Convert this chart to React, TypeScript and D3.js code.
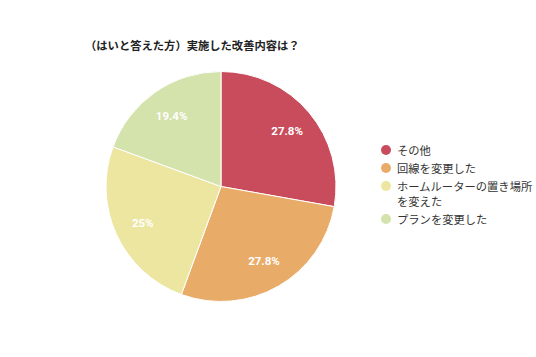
import React from "react";
import * as d3 from "d3";

const categories = ["その他", "回線を変更した", "ホームルーターの置き場所を変えた", "プランを変更した"];
const legendLines = [["その他"], ["回線を変更した"], ["ホームルーターの置き場所", "を変えた"], ["プランを変更した"]];
const values = [27.8, 27.8, 25, 19.4];
const labels = ["27.8%", "27.8%", "25%", "19.4%"];
const colors = ["#c84c5c", "#e8ab68", "#ede6a1", "#d4e2ac"];
const title = "（はいと答えた方）実施した改善内容は？";

export default function App() {
  const W = 536, H = 357;
  const cx = 221, cy = 186.5, r = 115;
  const pie = d3.pie<number>().value((d) => d).sort(null);
  const arcs = pie(values);
  const arc = d3.arc<d3.PieArcDatum<number>>().innerRadius(0).outerRadius(r);
  const labelArc = d3.arc<d3.PieArcDatum<number>>().innerRadius(r * 0.75).outerRadius(r * 0.75);
  const font = "'Noto Sans CJK JP', 'Noto Sans', sans-serif";
  let ly = 150;
  const legendY: number[] = [];
  legendLines.forEach((l) => {
    legendY.push(ly);
    ly += 18 + (l.length - 1) * 15;
  });
  return (
    <svg width={W} height={H} style={{ position: "absolute", left: 0, top: 0 }} fontFamily={font}>
      <rect width={W} height={H} fill="#fff" />
      <text x={85} y={45} dominantBaseline="central" fontSize={11.3} fontWeight="bold" fill="#222">{title}</text>
      <g transform={`translate(${cx},${cy})`}>
        {arcs.map((a, i) => (
          <path key={i} d={arc(a) || ""} fill={colors[i]} stroke="#fff" strokeWidth={1} />
        ))}
        {arcs.map((a, i) => {
          const [x, y] = labelArc.centroid(a);
          return (
            <text key={i} x={x} y={y} textAnchor="middle" dominantBaseline="central" fontSize={11.5} fontWeight="bold" fill="#fff" fontFamily="Roboto, 'Liberation Sans', sans-serif">{labels[i]}</text>
          );
        })}
      </g>
      <g>
        {legendLines.map((lines, i) => (
          <g key={i}>
            <circle cx={386} cy={legendY[i]} r={5} fill={colors[i]} />
            {lines.map((t, j) => (
              <text key={j} x={397} y={legendY[i] + j * 15} dominantBaseline="central" fontSize={11.3} fill="#333">{t}</text>
            ))}
          </g>
        ))}
      </g>
      <desc>{categories.join(",")}</desc>
    </svg>
  );
}
